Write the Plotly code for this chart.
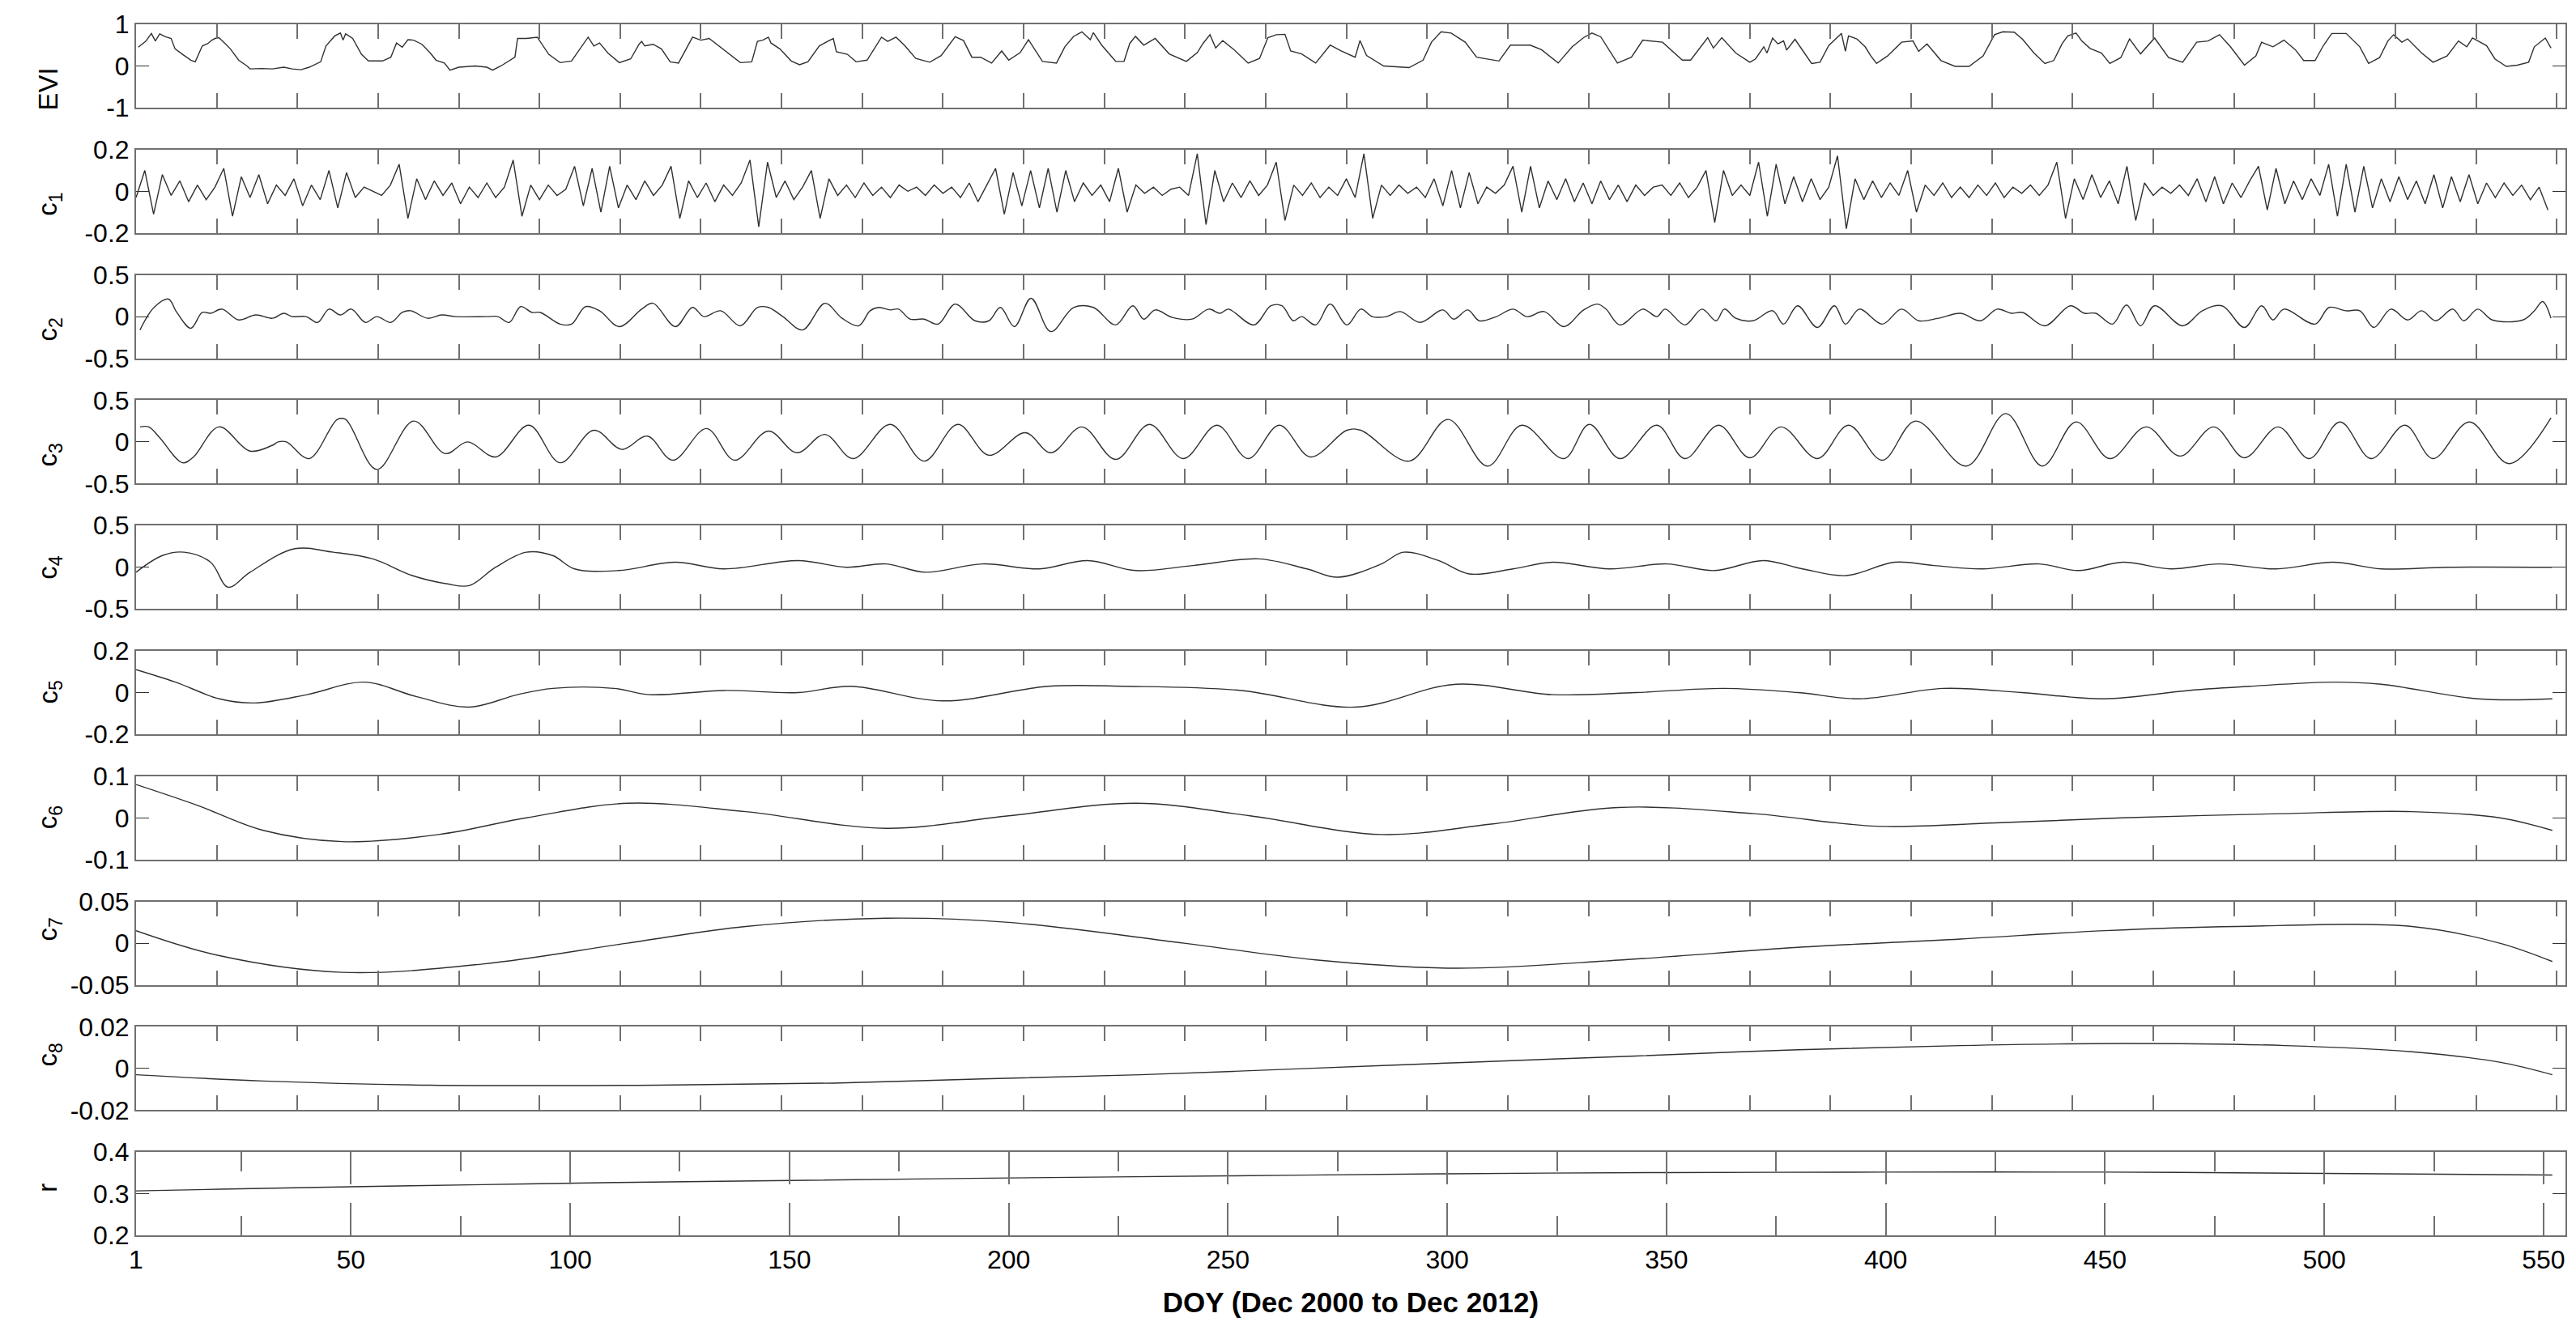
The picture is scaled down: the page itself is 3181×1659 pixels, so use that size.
import plotly.graph_objects as go

# ---------------- data ----------------
evi_doy = [1.5,3.2,4.5,5.4,6.4,7.7,9,9.9,11.6,13.5,14.5,16.1,17.4,18.3,19,19.9,21.2,22.5,24.4,26.3,27,29.6,32.1,34.7,36.6,38.6,40.5,43.1,44.3,46.3,47.6,48.2,48.8,50.4,52.4,54,57.2,59.1,60.4,61.7,63,64.3,66.2,68.1,69.4,71.3,72.6,74.6,78.4,81,82.3,84.2,87.4,88,90,92.5,95.1,97.7,100.3,102.8,104.1,105.4,106.7,108.6,111.2,113.8,115.7,116.3,117,118.9,120.8,122.8,124.7,127.9,129.8,131.7,134.3,136.2,138.8,141.4,142.7,143.9,145.2,145.8,147.8,150.4,152.3,154.2,156.8,158.7,160,160.7,163.2,165.2,167.7,171,
           172.4,174.3,176.2,178.8,182,184.6,187.8,189.7,191.6,193.6,196.1,198.4,200,202.6,204.5,207.7,210.9,212.8,214.8,216.7,218.6,219.3,221.2,224.4,226.3,227.6,228.9,230.8,233.4,236.6,240.5,243,244.3,245.9,247.2,248.8,251.4,254.6,257.2,259.1,261,263,264.3,266.8,270,273.3,275.8,279,280.1,281.6,285.5,291.3,294.5,296.4,298.6,300.9,304.1,306.7,311.8,314.4,318.9,321.5,325.3,328.5,331.1,333,335,338.8,342,344.6,349.1,353.6,355.5,359.4,360.7,362.6,
           365.8,369,370.3,372.2,372.9,374.2,375.4,376.7,377.4,379.3,383.1,385,387,389.9,390.8,391.5,393.4,395.3,396.6,397.9,400.4,403.6,406.2,407.5,409.4,412.6,415.8,419,422.2,424.8,426.7,429.3,431.2,433.8,436.3,438.3,440.2,441.5,443.4,444.7,446.6,449.2,451.1,453.6,455.6,458.1,461.3,464.5,467.7,470.9,473.5,476.1,478.6,481.8,484.4,485.7,488.3,490.8,493.4,495.3,497.9,499.8,501.7,505,508.1,510.1,512.6,514.5,515.8,517.7,519,522.2,524.8,528,530.6,532.5,533.8,537,538.9,541.5,544,546.6,547.9,550.4,551.7]
evi_val = [0.45,0.59,0.78,0.6,0.77,0.7,0.66,0.41,0.28,0.14,0.1,0.48,0.54,0.62,0.66,0.68,0.55,0.41,0.14,0,-0.07,-0.06,-0.07,-0.03,-0.07,-0.09,-0.03,0.1,0.48,0.72,0.79,0.62,0.77,0.66,0.28,0.12,0.12,0.21,0.55,0.45,0.63,0.62,0.52,0.31,0.14,0.07,-0.1,-0.03,0,-0.03,-0.1,0,0.21,0.66,0.66,0.69,0.28,0.08,0.12,0.48,0.69,0.48,0.55,0.31,0.08,0.17,0.52,0.59,0.48,0.52,0.41,0.1,0.07,0.69,0.62,0.66,0.45,0.28,0.08,0.1,0.59,0.62,0.69,0.55,0.41,0.12,0.03,0.1,0.48,0.59,0.66,0.34,0.28,0.1,0.14,0.69,
           0.59,0.69,0.5,0.18,0.09,0.25,0.7,0.61,0.21,0.21,0.07,0.36,0.14,0.32,0.63,0.11,0.07,0.46,0.71,0.82,0.63,0.8,0.5,0.11,0.11,0.54,0.71,0.5,0.66,0.29,0.11,0.32,0.54,0.75,0.43,0.61,0.39,0.07,0.18,0.68,0.75,0.76,0.36,0.29,0.07,0.5,0.36,0.21,0.61,0.25,0,-0.04,0.14,0.57,0.82,0.79,0.57,0.21,0.12,0.5,0.5,0.39,0.07,0.46,0.68,0.79,0.7,0.07,0.21,0.62,0.57,0.14,0.14,0.68,0.43,0.68,
           0.31,0.09,0.17,0.46,0.31,0.67,0.53,0.6,0.38,0.64,0.06,0.09,0.49,0.78,0.35,0.72,0.65,0.46,0.24,0.06,0.24,0.57,0.6,0.35,0.53,0.13,-0.01,-0.01,0.24,0.75,0.82,0.81,0.64,0.31,0.06,0.13,0.53,0.72,0.79,0.6,0.42,0.31,0.06,0.2,0.65,0.29,0.67,0.2,0.09,0.57,0.6,0.75,0.46,0.02,0.24,0.57,0.46,0.62,0.39,0.13,0.13,0.49,0.78,0.78,0.46,0.06,0.2,0.6,0.75,0.57,0.65,0.31,0.09,0.24,0.6,0.46,0.67,0.49,0.17,-0.01,0.02,0.09,0.46,0.67,0.43]

c1_doy = list(range(1, 552, 2))
c1_val = [-0.03,0.1,-0.11,0.08,-0.02,0.05,-0.05,0.03,-0.04,0.02,
          0.11,-0.12,0.07,-0.03,0.08,-0.06,0.03,-0.02,0.06,-0.07,
          0.03,-0.04,0.1,-0.08,0.09,-0.03,0.02,0.0,-0.02,0.03,
          0.13,-0.13,0.06,-0.04,0.05,-0.02,0.04,-0.06,0.02,-0.03,
          0.04,-0.03,0.02,0.15,-0.12,0.03,-0.04,0.03,-0.02,0.01,
          0.12,-0.07,0.11,-0.1,0.12,-0.08,0.03,-0.04,0.05,-0.02,
          0.03,0.12,-0.13,0.05,-0.03,0.04,-0.05,0.03,-0.02,0.04,
          0.15,-0.17,0.14,-0.03,0.05,-0.04,0.02,0.1,-0.13,0.06,
          -0.02,0.03,-0.03,0.04,-0.02,0.02,-0.03,0.03,0.0,0.02,
          -0.02,0.03,-0.01,0.02,-0.03,0.04,-0.05,0.03,0.11,-0.11,
          0.09,-0.07,0.1,-0.08,0.11,-0.1,0.1,-0.05,0.04,-0.02,
          0.03,-0.05,0.11,-0.1,0.03,-0.01,0.02,-0.02,0.01,0.02,
          -0.02,0.18,-0.16,0.1,-0.05,0.04,-0.03,0.05,-0.02,0.03,
          0.14,-0.14,0.03,-0.02,0.04,-0.03,0.02,-0.02,0.06,-0.03,
          0.18,-0.13,0.03,-0.02,0.03,-0.01,0.02,-0.03,0.06,-0.07,
          0.1,-0.08,0.09,-0.06,0.02,-0.01,0.03,0.12,-0.1,0.12,
          -0.08,0.05,-0.04,0.06,-0.05,0.04,-0.06,0.05,-0.04,0.03,
          -0.05,0.03,-0.02,0.02,0.03,-0.02,0.04,-0.03,0.02,0.1,
          -0.15,0.1,-0.02,0.03,-0.02,0.14,-0.12,0.13,-0.06,0.07,
          -0.05,0.06,-0.04,0.02,0.17,-0.18,0.06,-0.04,0.05,-0.03,
          0.04,-0.02,0.1,-0.1,0.03,-0.02,0.04,-0.03,0.02,-0.03,
          0.03,-0.02,0.04,-0.03,0.02,-0.01,0.03,-0.02,0.03,0.14,
          -0.13,0.06,-0.04,0.08,-0.03,0.05,-0.06,0.12,-0.14,0.04,
          -0.02,0.02,-0.01,0.03,-0.02,0.06,-0.05,0.07,-0.06,0.04,
          -0.03,0.05,0.12,-0.09,0.11,-0.06,0.05,-0.04,0.06,-0.02,
          0.13,-0.12,0.13,-0.1,0.12,-0.08,0.06,-0.05,0.07,-0.04,
          0.05,-0.06,0.08,-0.08,0.07,-0.05,0.08,-0.06,0.04,-0.03,
          0.04,-0.02,0.03,-0.04,0.02,-0.09]

c2_doy = [1.9,5.1,8.4,10.3,13.5,16.1,18,20.6,24.4,28.3,32.1,34.7,36.6,39.8,42.4,45,47.6,50.1,53.3,55.9,59.1,61.7,63.6,67.5,70.7,73.9,81,83.5,86.1,88.7,91.3,93.2,97.7,100.3,103.5,106.7,111.2,116.3,118.9,124,127.9,130.5,134.3,138.8,142.7,145.2,148.5,153,158.1,162,165.8,168.4,
          170.4,173,174.9,177.5,180.7,183.9,187.8,192.3,195.5,198.1,201.3,205.1,209.6,214.8,219.3,224.4,228.3,230.8,233.4,237.3,241.8,245.6,248.2,250.1,255.9,259.8,262.3,264.9,266.8,270,273.3,277.1,280.3,282.9,286.1,289.3,293.8,299,301.5,304.7,307.3,311.2,315,318.2,322.1,326.6,331.1,334.3,336.2,339.4,344.6,347.8,349.7,354.2,358.1,361.3,363.2,
          365.8,369.7,374.2,376.7,379.9,384.4,388.3,390.8,394,399.2,403.6,407.5,412,417.1,421.6,425.4,428.6,431.2,436.3,442.1,445.3,447.9,451.7,454.9,458.1,461.3,467.7,472.2,476.7,481.8,485.7,488.3,490.8,497.9,501.1,504.9,508.1,511.3,515.2,519,522.2,525.4,529.3,531.8,535,538.3,545.3,547.9,549.8,551.7]
c2_val = [-0.16,0.11,0.21,0.05,-0.14,0.05,0.04,0.09,-0.04,0.02,-0.02,0.04,0,0,-0.07,0.09,0.02,0.09,-0.07,0,-0.07,0.05,0.07,-0.02,0.02,0,0,0,-0.07,0.12,0.05,0.05,-0.09,-0.09,0.12,0.07,-0.12,0.09,0.16,-0.12,0.11,0,0.07,-0.11,0.11,0.11,0,-0.16,0.16,-0.02,-0.11,0.07,
          0.11,0.08,0.09,-0.03,-0.03,-0.09,0.15,-0.05,-0.05,0.11,-0.12,0.22,-0.18,0.11,0.11,-0.1,0.13,-0.03,0.08,-0.01,-0.03,0.09,0.04,0.09,-0.1,0.13,0.13,-0.05,0,-0.1,0.15,-0.1,0.09,0,0,0.06,-0.07,0.08,-0.03,0.08,-0.05,0,0.09,0,0.06,-0.12,0.08,0.15,0.09,-0.1,0.09,0,0.09,-0.1,0.09,-0.05,0.09,
          -0.02,-0.05,0.07,-0.09,0.13,-0.13,0.13,-0.09,0.09,-0.09,0.09,-0.05,-0.02,0.04,-0.05,0.09,0.04,0.05,-0.11,0.13,0.04,0.04,-0.09,0.14,-0.11,0.13,-0.11,0.07,0.13,-0.13,0.13,-0.04,0.09,-0.09,0.11,0.07,0.07,-0.13,0.09,-0.04,0.07,-0.05,0.09,-0.05,0.09,-0.04,-0.04,0.07,0.18,-0.02]

c3_doy = [1.9,3.9,6.4,11.6,14.1,19.9,27,32.1,33.4,35.3,40.5,46.9,48.8,55.9,64.3,71.5,76.6,83,90.6,97.7,105.4,111.8,117.6,123.4,131.1,137.5,145.2,151.7,158.1,164.5,
          173,180.7,188.4,195.5,203.8,209.6,216.7,224.4,232.1,239.8,247.5,254.6,261.7,268.8,277.1,280.3,291.3,300.2,309.2,317,326.6,332.4,339.4,347.8,354.2,361.9,
          369,376.1,384.4,391.5,399.2,406.8,418.4,427.4,435.7,443.4,451.1,459.4,467.1,474.8,481.8,489.5,496.6,503.6,510.7,518.4,524.8,533.1,542.1,551.7]
c3_val = [0.18,0.18,0.05,-0.25,-0.18,0.18,-0.11,-0.04,0,0,-0.2,0.27,0.27,-0.33,0.25,-0.14,0,-0.18,0.2,-0.25,0.14,-0.09,0.07,-0.22,0.16,-0.22,0.13,-0.13,0.09,-0.2,
          0.21,-0.23,0.21,-0.16,0.11,-0.13,0.18,-0.21,0.21,-0.2,0.2,-0.2,0.2,-0.18,0.14,0.14,-0.23,0.27,-0.29,0.2,-0.2,0.21,-0.2,0.2,-0.2,0.2,
          -0.19,0.18,-0.2,0.2,-0.22,0.25,-0.29,0.34,-0.29,0.24,-0.2,0.18,-0.17,0.18,-0.19,0.18,-0.2,0.24,-0.2,0.2,-0.2,0.24,-0.26,0.29]

c4_doy = [1,7,12,18,22,27,37,46,55,64,72,77,83,90,96,101,111,124,135,152,163,172,181,194,207,218,229,242,257,268,275,285,290,298,305,315,324,337,350,361,372,381,391,402,411,422,435,444,454,465,476,489,502,513,528,552]
c4_val = [-0.06,0.14,0.18,0.06,-0.24,-0.06,0.22,0.18,0.1,-0.1,-0.2,-0.22,0,0.18,0.14,-0.02,-0.04,0.06,-0.02,0.08,0,0.04,-0.06,0.04,-0.02,0.08,-0.04,0.02,0.1,-0.02,-0.12,0.04,0.18,0.08,-0.08,-0.02,0.06,-0.02,0.04,-0.04,0.08,-0.02,-0.1,0.06,0.02,-0.02,0.04,-0.04,0.06,-0.02,0.04,-0.02,0.06,-0.02,0,0]

c5_doy = [1,10,20,28,40,53,65,77,88,96,110,118,135,152,164,185,209,227,253,279,302,324,343,363,380,394,413,431,450,469,483,502,513,535,552]
c5_val = [0.11,0.05,-0.03,-0.05,-0.01,0.05,-0.02,-0.07,-0.01,0.02,0.02,-0.01,0.01,0,0.03,-0.04,0.03,0.03,0.01,-0.07,0.04,-0.01,0,0.02,0,-0.03,0.02,0,-0.03,0.01,0.03,0.05,0.04,-0.03,-0.03]

c6_doy = [1,15,30,48,70,90,113,140,172,200,229,255,285,310,339,370,398,425,454,490,520,540,552]
c6_val = [0.08,0.03,-0.03,-0.057,-0.04,0.0,0.035,0.015,-0.025,0.005,0.035,0.005,-0.04,-0.015,0.025,0.01,-0.02,-0.012,0.0,0.01,0.015,0.0,-0.03]

c7_doy = [1,20,48,80,113,140,172,200,240,270,302,340,380,417,450,480,520,540,552]
c7_val = [0.015,-0.015,-0.035,-0.025,0.0,0.02,0.03,0.025,0.0,-0.02,-0.03,-0.02,-0.005,0.005,0.015,0.02,0.02,0.0,-0.022]

c8_doy = [1,30,68,120,160,194,230,268,305,343,380,417,454,491,520,540,552]
c8_val = [-0.003,-0.006,-0.008,-0.008,-0.007,-0.005,-0.003,0.0,0.003,0.006,0.009,0.011,0.012,0.011,0.008,0.003,-0.003]

r_doy = [1,20,50,80,110,150,200,250,300,350,400,450,500,552]
r_val = [0.307,0.311,0.317,0.322,0.327,0.332,0.338,0.343,0.348,0.351,0.352,0.352,0.349,0.345]

labels = ["EVI", "c<sub>1</sub>", "c<sub>2</sub>", "c<sub>3</sub>", "c<sub>4</sub>",
          "c<sub>5</sub>", "c<sub>6</sub>", "c<sub>7</sub>", "c<sub>8</sub>", "r"]
yticks = [[-1, 0, 1], [-0.2, 0, 0.2], [-0.5, 0, 0.5], [-0.5, 0, 0.5], [-0.5, 0, 0.5],
          [-0.2, 0, 0.2], [-0.1, 0, 0.1], [-0.05, 0, 0.05], [-0.02, 0, 0.02], [0.2, 0.3, 0.4]]
yticktext = [["-1", "0", "1"], ["-0.2", "0", "0.2"], ["-0.5", "0", "0.5"], ["-0.5", "0", "0.5"],
             ["-0.5", "0", "0.5"], ["-0.2", "0", "0.2"], ["-0.1", "0", "0.1"],
             ["-0.05", "0", "0.05"], ["-0.02", "0", "0.02"], ["0.2", "0.3", "0.4"]]
xticks = [1, 50, 100, 150, 200, 250, 300, 350, 400, 450, 500, 550]
xminor = [25, 75, 125, 175, 225, 275, 325, 375, 425, 475, 525]
series = [(evi_doy, evi_val), (c1_doy, c1_val), (c2_doy, c2_val), (c3_doy, c3_val),
          (c4_doy, c4_val), (c5_doy, c5_val), (c6_doy, c6_val), (c7_doy, c7_val),
          (c8_doy, c8_val), (r_doy, r_val)]
smooth = [False, False, True, True, True, True, True, True, True, True]

# ---------------- layout ----------------
W, H = 3181, 1659
x0, x1 = 160 / W, 3160 / W
FONT = "Liberation Sans, Arial, sans-serif"
fig = go.Figure()
for i, (xs, ys) in enumerate(series):
    n = "" if i == 0 else str(i + 1)
    top = 22 + 154.8 * i
    dom = [1 - (top + 103) / H, 1 - top / H]
    line = dict(color="#303030", width=1.4)
    if smooth[i]:
        line.update(shape="spline", smoothing=1.0)
    fig.add_trace(go.Scatter(x=xs, y=ys, mode="lines", xaxis="x" + n, yaxis="y" + n,
                             line=line, showlegend=False, hoverinfo="skip", cliponaxis=False))
    last = i == len(series) - 1
    xa = dict(domain=[x0, x1], range=[1, 555], anchor="y" + n, showgrid=False, zeroline=False,
              showline=True, linecolor="#707070", linewidth=2, mirror="ticks", automargin=False,
              ticks="inside", ticklen=18, tickcolor="#707070", tickwidth=1.5)
    if last:
        xa.update(tickmode="array", tickvals=xticks, ticktext=[str(v) for v in xticks],
                  ticklen=40,
                  minor=dict(tickmode="array", tickvals=xminor, ticks="inside", ticklen=24,
                             tickcolor="#707070", tickwidth=1.5),
                  tickfont=dict(family=FONT, size=32, color="#000"),
                  title=dict(text="<b>DOY (Dec 2000 to Dec 2012)</b>",
                             font=dict(family=FONT, size=35, color="#000"), standoff=24))
    else:
        xa.update(tickmode="linear", tick0=1, dtick=18.4, showticklabels=False)
    ya = dict(domain=dom, range=[yticks[i][0], yticks[i][2]], anchor="x" + n,
              showgrid=False, zeroline=False, showline=True, linecolor="#707070", linewidth=2,
              mirror="ticks", ticks="inside", ticklen=16, tickcolor="#303030", automargin=False,
              tickmode="array", tickvals=yticks[i], ticktext=yticktext[i],
              tickfont=dict(family=FONT, size=32, color="#000"))
    fig.layout["xaxis" + n] = xa
    fig.layout["yaxis" + n] = ya
    fig.add_annotation(text=labels[i], xref="paper", yref="paper", x=30 / W,
                       y=(dom[0] + dom[1]) / 2, showarrow=False, textangle=-90,
                       font=dict(family=FONT, size=33, color="#000"))

fig.update_layout(width=W, height=H, margin=dict(l=0, r=0, t=0, b=0),
                  paper_bgcolor="white", plot_bgcolor="white")
fig.write_html("out.html")
